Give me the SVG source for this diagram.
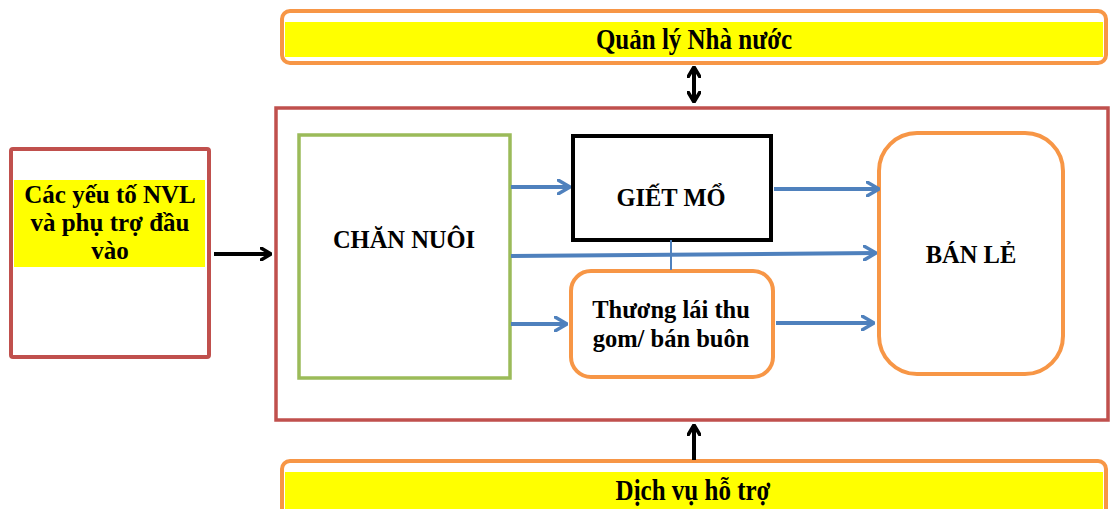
<svg xmlns="http://www.w3.org/2000/svg" width="1110" height="509" viewBox="0 0 1110 509">
<style>
text{font-family:"Liberation Serif","Times New Roman",serif;font-weight:bold;fill:#000;text-anchor:middle}
.t25{font-size:25px}
.t24{font-size:24.5px}
.red{fill:#fff;stroke:#C0504D;stroke-width:4}
.org{fill:#fff;stroke:#F79646;stroke-width:4}
.yel{fill:#FFFF00}
.blue{stroke:#4F81BD;stroke-width:4;fill:none}
.blk{stroke:#000;stroke-width:4;fill:none}
</style>
<defs>
<marker id="ab" viewBox="0 0 14 16" refX="13" refY="8" markerWidth="14" markerHeight="16" markerUnits="userSpaceOnUse" orient="auto-start-reverse">
<path d="M1,1 L13,8 L1,15" fill="none" stroke="#4F81BD" stroke-width="3.5" stroke-linecap="round" stroke-linejoin="round"/>
</marker>
<marker id="ak" viewBox="0 0 12 14" refX="11" refY="7" markerWidth="12" markerHeight="14" markerUnits="userSpaceOnUse" orient="auto-start-reverse">
<path d="M1,1 L11,7 L1,13" fill="none" stroke="#000" stroke-width="3.5" stroke-linecap="round" stroke-linejoin="round"/>
</marker>
</defs>
<g id="quan-ly">
<rect x="282" y="11" width="824" height="52" rx="8" class="org"/>
<rect x="285" y="22" width="818" height="35" class="yel"/>
<text transform="translate(694,49) scale(1,1.15)" class="t25">Quản lý Nhà nước</text>
</g>
<g id="chuoi">
<rect x="276" y="108" width="832" height="312" class="red" style="stroke-width:3.5"/>
</g>
<g id="dau-vao">
<rect x="11" y="149" width="198" height="208" rx="2" class="red"/>
<rect x="14" y="180" width="191" height="87" class="yel"/>
<text x="110" y="203" class="t25">Các yếu tố NVL</text>
<text x="110" y="231" class="t25">và phụ trợ đầu</text>
<text x="110" y="259" class="t25">vào</text>
</g>
<g id="chan-nuoi">
<rect x="299" y="135" width="211" height="243" fill="#fff" stroke="#9BBB59" stroke-width="3.5"/>
<text x="404" y="248" class="t24">CHĂN NUÔI</text>
</g>
<g id="giet-mo">
<rect x="573" y="136" width="198" height="104" fill="#fff" stroke="#000" stroke-width="4"/>
<text x="671" y="206" class="t24">GIẾT MỔ</text>
</g>
<g id="thuong-lai">
<rect x="571" y="271" width="202" height="106" rx="20" class="org"/>
<text x="671" y="318" class="t24">Thương lái thu</text>
<text x="671" y="347" class="t24">gom/ bán buôn</text>
</g>
<g id="ban-le">
<rect x="879" y="133" width="184" height="241" rx="38" class="org"/>
<text x="971" y="263" class="t24">BÁN LẺ</text>
</g>
<g id="dich-vu">
<rect x="282" y="461" width="824" height="60" rx="8" class="org"/>
<rect x="285" y="472" width="818" height="40" class="yel"/>
<text transform="translate(693,500) scale(1,1.15)" class="t25">Dịch vụ hỗ trợ</text>
</g>
<g id="connectors">
<line x1="694" y1="67" x2="694" y2="102" class="blk" marker-start="url(#ak)" marker-end="url(#ak)"/>
<line x1="214" y1="254" x2="271" y2="254" class="blk" marker-end="url(#ak)"/>
<line x1="694" y1="460" x2="694" y2="425" class="blk" marker-end="url(#ak)"/>
<line x1="511" y1="187" x2="570" y2="187" class="blue" marker-end="url(#ab)"/>
<line x1="774" y1="189" x2="879" y2="189" class="blue" marker-end="url(#ab)"/>
<line x1="511" y1="256" x2="876" y2="253" class="blue" marker-end="url(#ab)"/>
<line x1="511" y1="324" x2="567" y2="324" class="blue" marker-end="url(#ab)"/>
<line x1="776" y1="323" x2="874" y2="323" class="blue" marker-end="url(#ab)"/>
<line x1="671" y1="240" x2="671" y2="270" stroke="#4F81BD" stroke-width="2"/>
</g>
</svg>
